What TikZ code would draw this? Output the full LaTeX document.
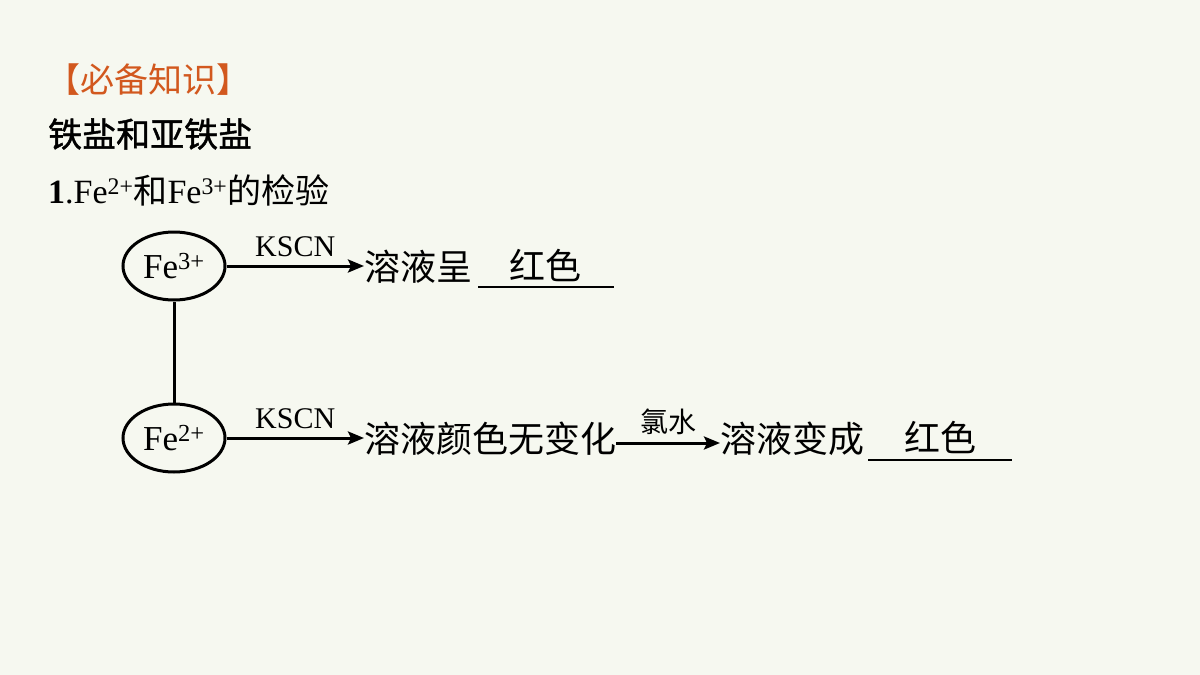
\documentclass[tikz,border=0pt]{standalone}
\usepackage{fontspec}
\setmainfont{Liberation Serif}
\newfontfamily\cjk{Noto Sans CJK SC}
\newfontfamily\cjkb[FakeBold=1.2]{Noto Sans CJK SC}
\usetikzlibrary{arrows.meta,shapes.geometric}
\definecolor{bg}{HTML}{F6F8F0}
\definecolor{hdr}{HTML}{D2581E}
\begin{document}
\begin{tikzpicture}[x=1pt,y=-1pt,
  ion/.style={draw, ellipse, line width=3pt, minimum width=102pt, minimum height=68pt, inner sep=0pt, font=\fontsize{35}{38}\selectfont},
  txt/.style={inner sep=0pt, anchor=west, font=\cjk\fontsize{36}{40}\selectfont},
  arr/.style={-{Stealth[length=16pt,width=13pt,inset=3pt]}, line width=3pt},
  lbl/.style={inner sep=0pt, font=\fontsize{30}{32}\selectfont},
  clbl/.style={inner sep=0pt, font=\cjk\fontsize{28}{30}\selectfont},
  blank/.style={line width=2.8pt}]
\fill[bg] (0,0) rectangle (1200,675);
\useasboundingbox (0,0) rectangle (1200,675);

% headings
\node[inner sep=0pt, anchor=west, text=hdr, font=\cjk\fontsize{34}{38}\selectfont] (h1) at (46,80) {【必备知识】};
\node[inner sep=0pt, anchor=west, font=\cjkb\fontsize{34}{38}\selectfont] (h2) at (48,134) {铁盐和亚铁盐};
\node[inner sep=0pt, anchor=west, font=\fontsize{34}{38}\selectfont] (h3) at (48,190) {\textbf{1}.Fe\textsuperscript{2+}{\cjk\fontsize{34}{38}\selectfont 和}Fe\textsuperscript{3+}{\cjk\fontsize{34}{38}\selectfont 的检验}};

% ions
\node[ion] (fe3) at (174,266) {Fe\textsuperscript{3+}};
\node[ion] (fe2) at (174,438) {Fe\textsuperscript{2+}};
\draw[line width=3pt] (fe3) -- (fe2);

% Fe3+ branch
\node[txt] (t1) at (364,267) {溶液呈};
\draw[arr] (fe3.east) -- node[lbl, above=8pt] (k1) {KSCN} (fe3.east -| t1.west);
\coordinate (u1a) at (478,287);
\coordinate (u1b) at (614,287);
\draw[blank] (u1a) -- (u1b);
\node[inner sep=0pt, font=\cjk\fontsize{36}{40}\selectfont] (r1) at (545,265) {红色};

% Fe2+ branch
\node[txt] (t2) at (364,439) {溶液颜色无变化};
\draw[arr] (fe2.east) -- node[lbl, above=8pt] (k2) {KSCN} (fe2.east -| t2.west);
\node[txt] (t3) at (720,439) {溶液变成};
\coordinate (a3) at ([yshift=-4pt]t2.east);
\draw[arr] (a3) -- node[clbl, above=7pt] (cl) {氯水} (a3 -| t3.west);
\coordinate (u2a) at (868,460);
\coordinate (u2b) at (1012,460);
\draw[blank] (u2a) -- (u2b);
\node[inner sep=0pt, font=\cjk\fontsize{36}{40}\selectfont] (r2) at (940,437) {红色};
\end{tikzpicture}
\end{document}
